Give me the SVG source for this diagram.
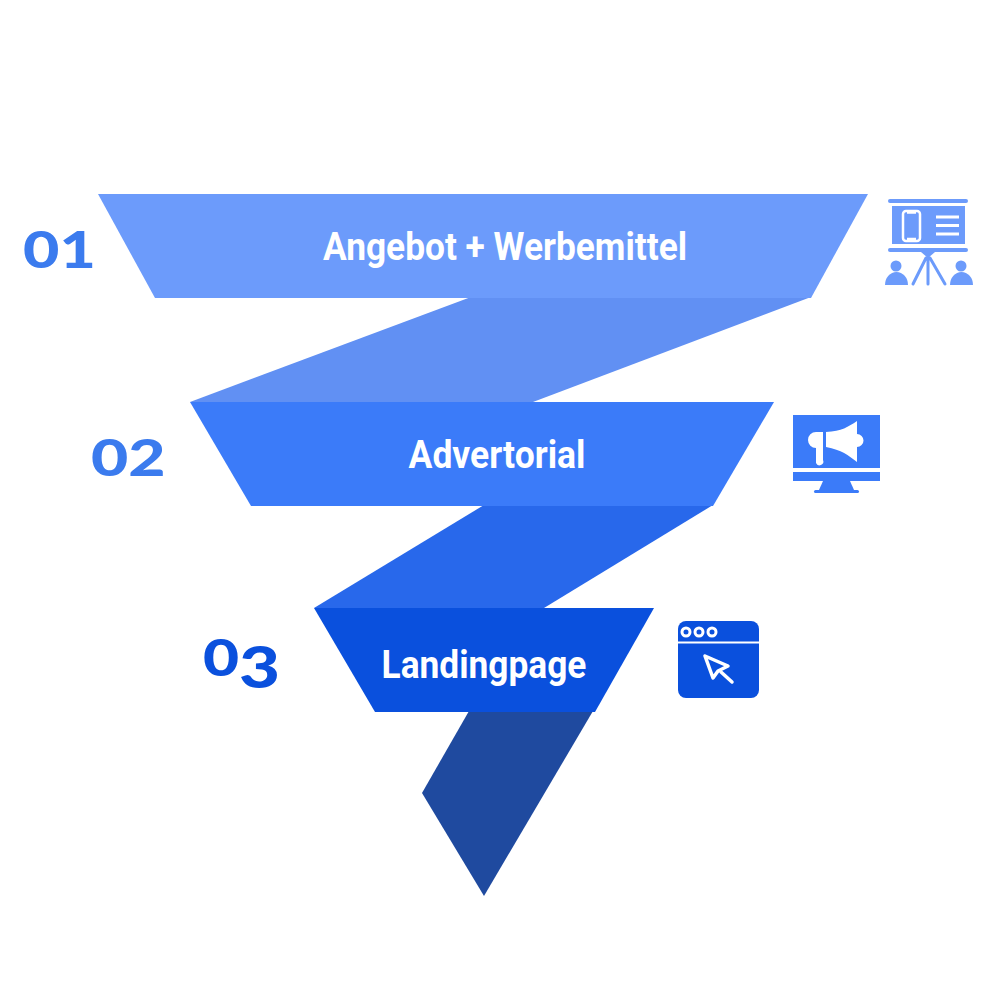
<svg xmlns="http://www.w3.org/2000/svg" width="1000" height="1000" viewBox="0 0 1000 1000">
<style>
.t{font-family:Roboto,"Liberation Sans",sans-serif;font-weight:700;font-size:39px;fill:#fff;text-anchor:middle}
.n{font-family:Lato,"Liberation Sans",sans-serif;font-weight:900;font-size:51px}
</style>
<rect width="1000" height="1000" fill="#fff"/>
<g id="connectors">
<polygon points="471,297 811,297 533,402 190,402" fill="#6190F3"/>
<polygon points="484,505 713,505 544,608 314,608" fill="#2868EB"/>
<polygon points="469,711 593,711 484,896 422,793" fill="#1F4A9F"/>
</g>
<g id="band1">
<polygon points="98,194 868,194 811,298 155,298" fill="#6C9BFB"/>
<text class="t" transform="translate(505,260) scale(0.905,1)">Angebot + Werbemittel</text>
</g>
<g id="band2">
<polygon points="190,402 774,402 713,506 251,506" fill="#3B7BF9"/>
<text class="t" transform="translate(497,468) scale(0.91,1)">Advertorial</text>
</g>
<g id="band3">
<polygon points="314,608 654,608 595,712 375,712" fill="#0A50DD"/>
<text class="t" transform="translate(484,678) scale(0.905,1)">Landingpage</text>
</g>
<g id="num1"><text class="n" transform="translate(23,268) scale(1.23,1)" fill="#3B7BEE">01</text></g>
<g id="num2"><text class="n" transform="translate(91,476) scale(1.26,1)" fill="#3B7BEE">02</text></g>
<g id="num3"><text class="n" transform="translate(203,676) scale(1.22,1)" fill="#0A50DD">0<tspan dy="12" font-size="58">3</tspan></text></g>
<g id="icon1" fill="#6C9BFB">
<rect x="888" y="199" width="80" height="4" rx="2"/>
<rect x="892" y="206" width="73" height="38"/>
<rect x="888" y="248" width="80" height="4" rx="2"/>
<path d="M921 252H935L928 258Z"/>
<g fill="none" stroke="#6C9BFB" stroke-width="3" stroke-linecap="round">
<path d="M928 256V284M926 258L913 284M930 258L945 284"/>
</g>
<circle cx="896" cy="266" r="5.500"/><path d="M885 285a11.500 13 0 0 1 23 0Z"/>
<circle cx="961" cy="266" r="5.500"/><path d="M950 285a11.500 13 0 0 1 23 0Z"/>
<rect x="903" y="211" width="17" height="30" rx="3" fill="none" stroke="#fff" stroke-width="2.500"/>
<path d="M907 212.500H916M907 239H916" stroke="#fff" stroke-width="2.500"/>
<path d="M936 217H959M936 225.500H959M936 234H959" stroke="#fff" stroke-width="3"/>
</g>
<g id="icon2" fill="#3B7BF9">
<rect x="793" y="415" width="87" height="53"/>
<rect x="793" y="472" width="87" height="9"/>
<path d="M823 481H850L854 490H819Z"/>
<rect x="814" y="490" width="45" height="3" rx="1.500"/>
<path d="M816 432H823V460A3.500 3.500 0 0 1 816 463V448A8 8 0 0 1 816 432Z" fill="#fff"/>
<path d="M826 432C842 431 848 427 857 421V434A6.500 6.500 0 0 1 857 447V462C848 455 842 450 826 447Z" fill="#fff"/>
</g>
<g id="icon3">
<rect x="678" y="621" width="81" height="77" rx="8" fill="#0A50DD"/>
<path d="M678 642.500H759" stroke="#fff" stroke-width="2"/>
<g fill="#0A50DD" stroke="#fff" stroke-width="3"><circle cx="686" cy="632" r="4"/><circle cx="699" cy="632" r="4"/><circle cx="712" cy="632" r="4"/></g>
<path d="M705 656L728 666L718 671L713 678ZM721 672L732 682" fill="none" stroke="#fff" stroke-width="3.500" stroke-linejoin="round" stroke-linecap="round"/>
</g>
</svg>
